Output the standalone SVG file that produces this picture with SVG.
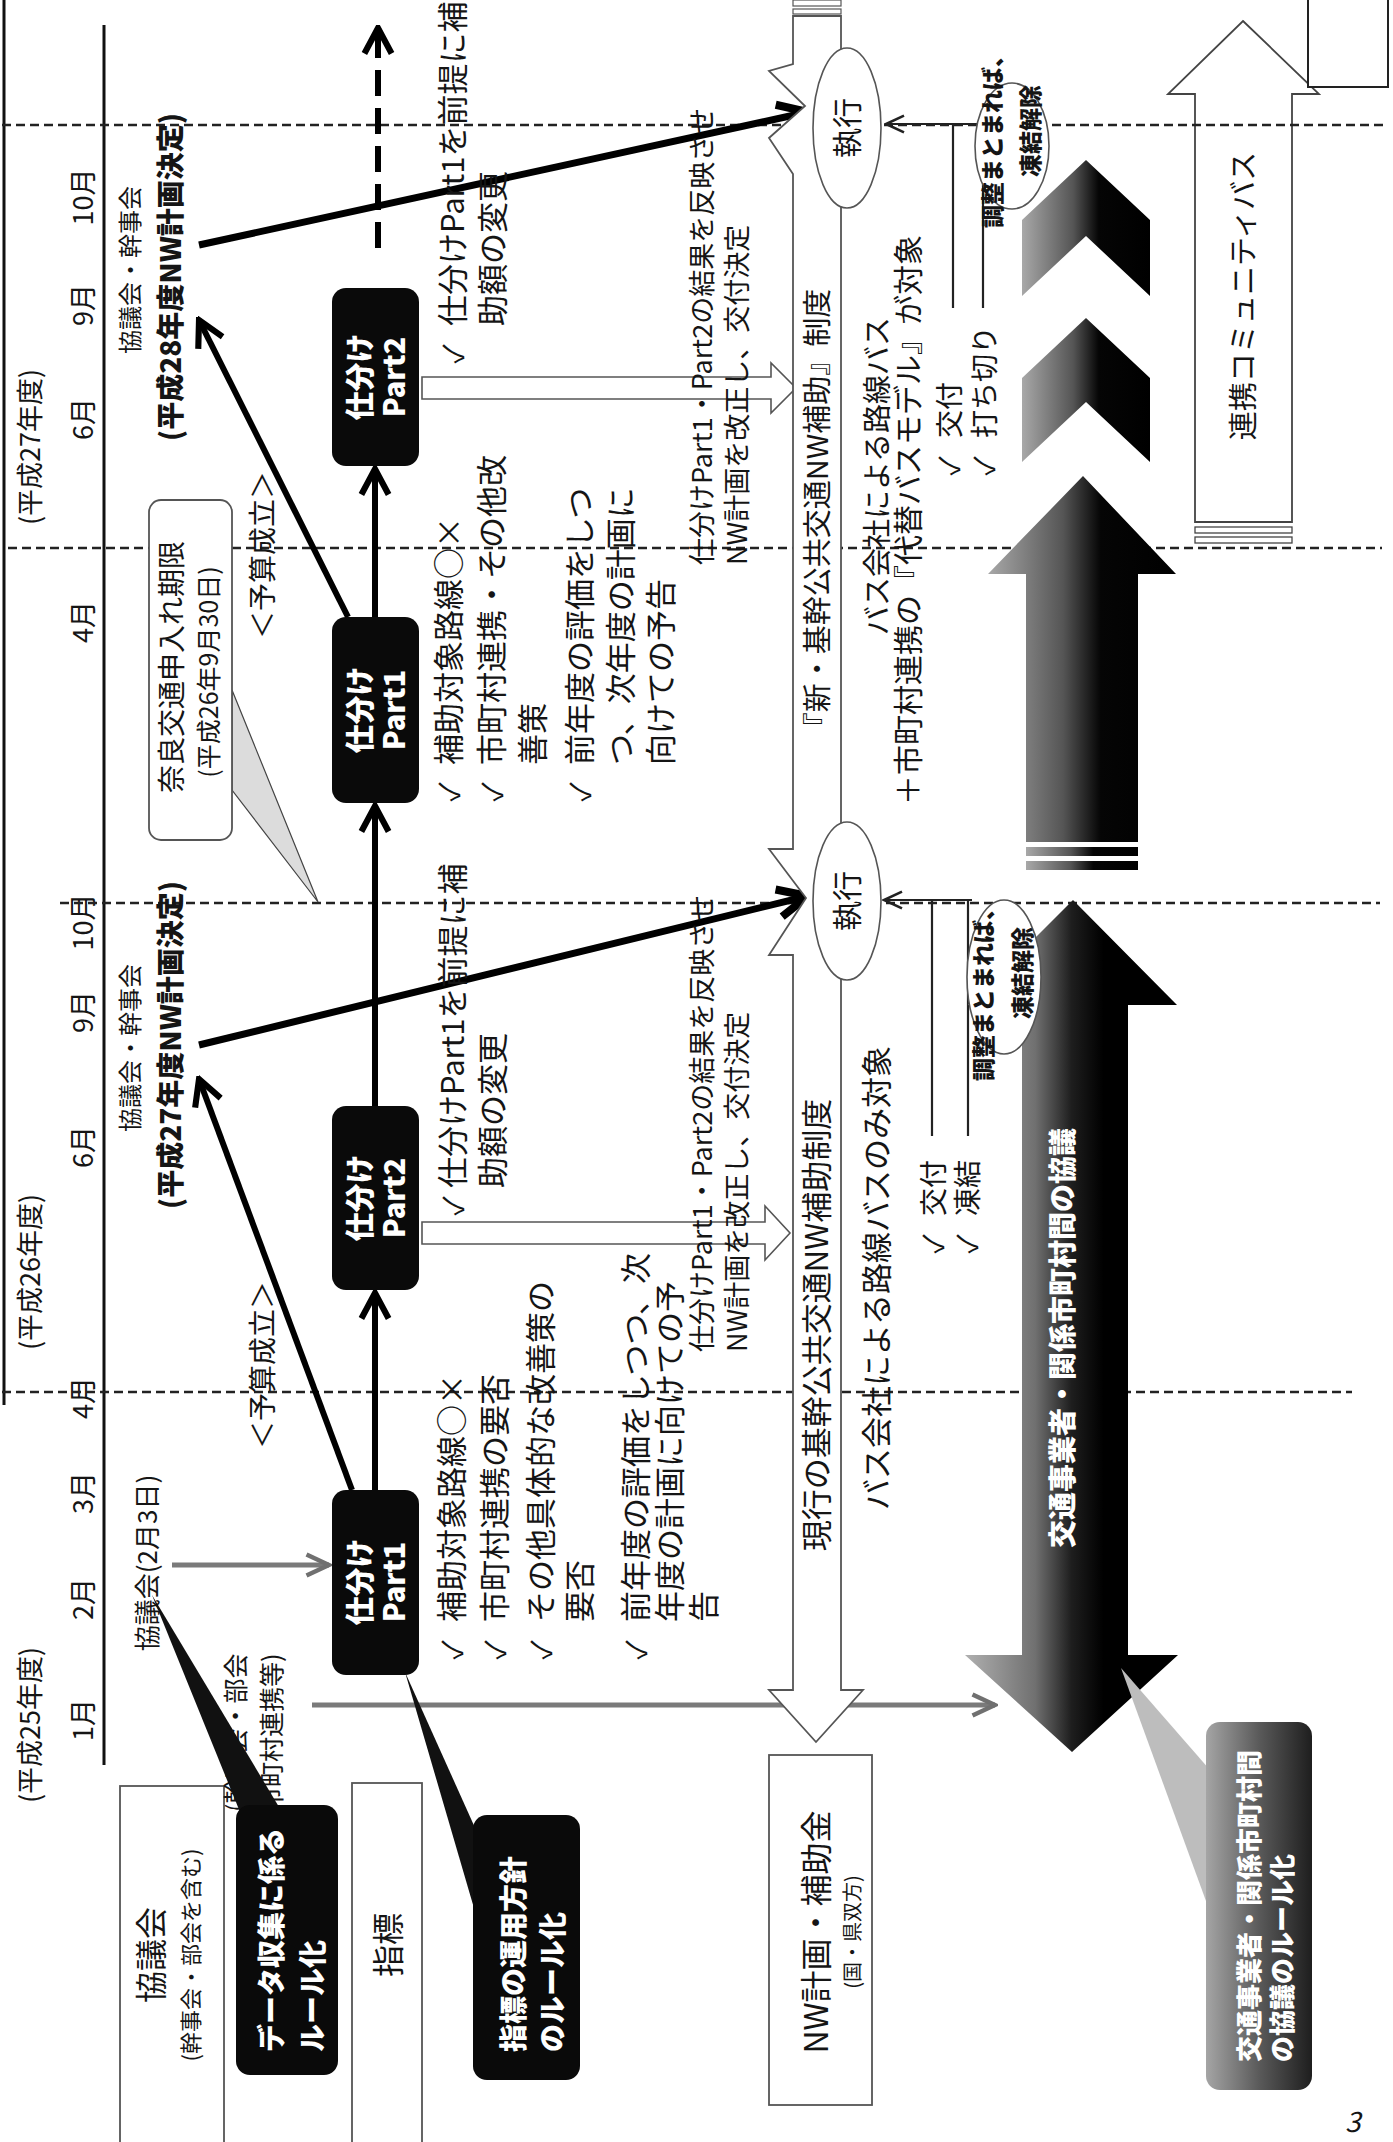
<svg xmlns="http://www.w3.org/2000/svg" width="1393" height="2142" viewBox="0 0 1393 2142">
<defs>
<style>
text{font-family:"Noto Sans CJK JP","Noto Sans","DejaVu Sans",sans-serif;fill:#151515}
.m{text-anchor:middle}
.b{font-weight:700}
.h{font-weight:900}
.w{fill:#fff}
.dash{stroke:#222;stroke-width:2.5;stroke-dasharray:9 5;fill:none}
.box{fill:#fff;stroke:#555;stroke-width:1.8}
.blk{fill:#0a0a0a}
.con{stroke:#000;stroke-width:6;fill:none}
.thk{stroke:#000;stroke-width:7;fill:none}
.thin{stroke:#222;stroke-width:2.2;fill:none}
.gray{stroke:#7a7a7a;stroke-width:5;fill:none}
.ell{fill:#fff;stroke:#555;stroke-width:1.6}
</style>
<marker id="ah" viewBox="0 0 20 20" refX="18" refY="10" markerWidth="34" markerHeight="34" orient="auto" markerUnits="userSpaceOnUse"><path d="M3,2 L18,10 L3,18" fill="none" stroke="#000" stroke-width="3.6"/></marker>
<marker id="ahb" viewBox="0 0 20 20" refX="18" refY="10" markerWidth="40" markerHeight="40" orient="auto" markerUnits="userSpaceOnUse"><path d="M3,3 L18,10 L3,17" fill="none" stroke="#000" stroke-width="4"/></marker>
<marker id="ahs" viewBox="0 0 20 20" refX="18" refY="10" markerWidth="24" markerHeight="24" orient="auto" markerUnits="userSpaceOnUse"><path d="M3,3 L18,10 L3,17" fill="none" stroke="#222" stroke-width="2.2"/></marker>
<marker id="ahg" viewBox="0 0 20 20" refX="18" refY="10" markerWidth="30" markerHeight="30" orient="auto" markerUnits="userSpaceOnUse"><path d="M3,3 L18,10 L3,17" fill="none" stroke="#707070" stroke-width="3"/></marker>
<linearGradient id="dk" x1="0" y1="0" x2="1" y2="0"><stop offset="0" stop-color="#a8a8a8"/><stop offset="0.4" stop-color="#555"/><stop offset="0.6" stop-color="#050505"/><stop offset="1" stop-color="#000"/></linearGradient>
<linearGradient id="dk2" x1="0" y1="0" x2="1" y2="0"><stop offset="0" stop-color="#b0b0b0"/><stop offset="0.33" stop-color="#707070"/><stop offset="0.5" stop-color="#1e1e1e"/><stop offset="0.65" stop-color="#000"/><stop offset="1" stop-color="#000"/></linearGradient>
<linearGradient id="cg" x1="0" y1="0" x2="1" y2="0"><stop offset="0" stop-color="#a5a5a5"/><stop offset="0.5" stop-color="#5a5a5a"/><stop offset="1" stop-color="#1e1e1e"/></linearGradient>
</defs>
<rect width="1393" height="2142" fill="#fff"/>

<g id="timeline">
<line x1="4" y1="0" x2="4" y2="1405" stroke="#111" stroke-width="3"/>
<line x1="104" y1="25" x2="104" y2="1765" stroke="#111" stroke-width="3"/>
<g font-size="27">
<text class="m" transform="translate(40 1725)rotate(-90)">(平成25年度)</text>
<text class="m" transform="translate(40 1272)rotate(-90)">(平成26年度)</text>
<text class="m" transform="translate(40 447)rotate(-90)">(平成27年度)</text>
<text class="m" transform="translate(93 1720)rotate(-90)">1月</text>
<text class="m" transform="translate(93 1599)rotate(-90)">2月</text>
<text class="m" transform="translate(93 1493)rotate(-90)">3月</text>
<text class="m" transform="translate(93 1398)rotate(-90)">4月</text>
<text class="m" transform="translate(93 1147)rotate(-90)">6月</text>
<text class="m" transform="translate(93 1012)rotate(-90)">9月</text>
<text class="m" transform="translate(93 922)rotate(-90)">10月</text>
<text class="m" transform="translate(93 622)rotate(-90)">4月</text>
<text class="m" transform="translate(93 419)rotate(-90)">6月</text>
<text class="m" transform="translate(93 305)rotate(-90)">9月</text>
<text class="m" transform="translate(93 197)rotate(-90)">10月</text>
</g>
</g>

<g id="renkei-bus">
<path d="M1243,21 L1319,94 H1292 V522 H1195 V94 H1168 Z" fill="#fff" stroke="#444" stroke-width="1.8"/>
<rect x="1195" y="527" width="97" height="6" fill="#fff" stroke="#444" stroke-width="1.3"/>
<rect x="1195" y="537" width="97" height="6" fill="#fff" stroke="#444" stroke-width="1.3"/>
<text class="m" font-size="29" transform="translate(1254 296)rotate(-90)">連携コミュニティバス</text>
</g>

<g id="grid">
<line class="dash" x1="2" y1="125" x2="1386" y2="125"/>
<line class="dash" x1="8" y1="548" x2="1382" y2="548"/>
<line class="dash" x1="60" y1="903" x2="1380" y2="903"/>
<line class="dash" x1="2" y1="1392" x2="1352" y2="1392"/>
</g>

<g id="corner-box"><rect x="1308" y="-2" width="80" height="89" fill="#fff" stroke="#222" stroke-width="2"/></g>

<g id="row-kyogikai">
<rect class="box" x="120" y="1786" width="104" height="370"/>
<text class="m" font-size="32" transform="translate(163 1955)rotate(-90)">協議会</text>
<text class="m" font-size="22" transform="translate(199 1955)rotate(-90)">(幹事会・部会を含む)</text>
</g>
<g id="row-shihyo">
<rect class="box" x="352" y="1783" width="70" height="370"/>
<text class="m" font-size="32" transform="translate(400 1945)rotate(-90)">指標</text>
</g>
<g id="row-nw">
<rect class="box" x="769" y="1755" width="103" height="350"/>
<text class="m" font-size="32" transform="translate(828 1932)rotate(-90)">NW計画・補助金</text>
<text class="m" font-size="20" transform="translate(860 1932)rotate(-90)">(国・県双方)</text>
</g>

<g id="meeting-h27">
<text class="m" font-size="24" transform="translate(139 1048)rotate(-90)">協議会・幹事会</text>
<text class="m h" font-size="28" transform="translate(181 1045)rotate(-90)">(平成27年度NW計画決定)</text>
</g>
<g id="meeting-h28">
<text class="m" font-size="24" transform="translate(139 270)rotate(-90)">協議会・幹事会</text>
<text class="m h" font-size="28" transform="translate(181 277)rotate(-90)">(平成28年度NW計画決定)</text>
</g>
<g id="meeting-0203">
<text class="m" font-size="26" transform="translate(157 1563)rotate(-90)">協議会(2月3日)</text>
<text font-size="25" transform="translate(245 1812)rotate(-90)">(幹事会・部会</text>
<text font-size="25" transform="translate(281 1812)rotate(-90)">市町村連携等)</text>
</g>
<g id="yosan-1"><text class="m" font-size="28" transform="translate(273 1365)rotate(-90)">＜予算成立＞</text></g>
<g id="yosan-2"><text class="m" font-size="28" transform="translate(273 555)rotate(-90)">＜予算成立＞</text></g>

<g id="dark-arrows">
<polygon points="1022,220 1086,160 1150,220 1150,296 1086,236 1022,296" fill="url(#dk)"/>
<polygon points="1022,378 1086,318 1150,378 1150,462 1086,402 1022,462" fill="url(#dk)"/>
<polygon points="1083,476 1176,574 1138,574 1138,842 1026,842 1026,574 988,574" fill="url(#dk)"/>
<rect x="1026" y="847" width="112" height="9" fill="url(#dk)"/>
<rect x="1026" y="861" width="112" height="9" fill="url(#dk)"/>
</g>

<g id="connectors">
<path d="M422,377 H771 V363 L796,388 L771,413 V399 H422 Z" fill="#fff" stroke="#555" stroke-width="1.6"/>
<path d="M422,1222 H765 V1206 L790,1233 L765,1260 V1244 H422 Z" fill="#fff" stroke="#555" stroke-width="1.6"/>
<line class="con" x1="375" y1="1490" x2="375" y2="1293" marker-end="url(#ah)"/>
<line class="con" x1="375" y1="1106" x2="375" y2="806" marker-end="url(#ah)"/>
<line class="con" x1="375" y1="617" x2="375" y2="469" marker-end="url(#ah)"/>
<line class="con" x1="378" y1="248" x2="378" y2="28" stroke-dasharray="26 12" marker-end="url(#ah)"/>
<line class="con" x1="352" y1="1490" x2="199" y2="1079" marker-end="url(#ah)"/>
<line class="con" x1="348" y1="617" x2="199" y2="320" marker-end="url(#ah)"/>
<line class="thk" x1="199" y1="1045" x2="808" y2="896" marker-end="url(#ahb)"/>
<line class="thk" x1="199" y1="245" x2="808" y2="112" marker-end="url(#ahb)"/>
<line class="gray" x1="172" y1="1565" x2="329" y2="1565" marker-end="url(#ahg)"/>
<line class="gray" x1="312" y1="1705" x2="995" y2="1705" marker-end="url(#ahg)"/>
<path class="thin" d="M953,308 V124 M983,308 V124"/>
<line class="thin" x1="985" y1="124" x2="886" y2="124" marker-end="url(#ahs)"/>
<path class="thin" d="M932,1136 V900 M968,1136 V900"/>
<line class="thin" x1="972" y1="900" x2="884" y2="900" marker-end="url(#ahs)"/>
</g>

<g id="nw-band">
<path d="M793,16 H841 V1690 H863 L816,1742 L769,1690 H793 V955 L769,955 L806,898 L769,849 H793 V174 L769,138 L805,106 L769,71 L793,64 Z" fill="#fff" stroke="#555" stroke-width="1.8"/>
<rect x="793" y="0" width="48" height="6" fill="#fff" stroke="#555" stroke-width="1.2"/>
<rect x="793" y="9" width="48" height="5" fill="#fff" stroke="#555" stroke-width="1.2"/>
<text class="m" font-size="31" transform="translate(828 1325)rotate(-90)">現行の基幹公共交通NW補助制度</text>
<text class="m" font-size="29" transform="translate(828 515)rotate(-90)">『新・基幹公共交通NW補助』制度</text>
</g>

<g id="current-target">
<text class="m" font-size="31" transform="translate(888 1278)rotate(-90)">バス会社による路線バスのみ対象</text>
<text class="m" font-size="28" transform="translate(944 1244)rotate(-90)">✓</text>
<text font-size="28" transform="translate(944 1216)rotate(-90)">交付</text>
<text class="m" font-size="28" transform="translate(978 1244)rotate(-90)">✓</text>
<text font-size="28" transform="translate(978 1216)rotate(-90)">凍結</text>
</g>
<g id="new-target">
<text class="m" font-size="29" transform="translate(888 476)rotate(-90)">バス会社による路線バス</text>
<text class="m" font-size="30" transform="translate(919 520)rotate(-90)">＋市町村連携の『代替バスモデル』が対象</text>
<text class="m" font-size="28" transform="translate(960 466)rotate(-90)">✓</text>
<text font-size="28" transform="translate(960 438)rotate(-90)">交付</text>
<text class="m" font-size="28" transform="translate(995 466)rotate(-90)">✓</text>
<text font-size="28" transform="translate(995 438)rotate(-90)">打ち切り</text>
</g>

<g id="kyogi-arrow">
<polygon points="1073,900 1177,1005 1128,1005 1128,1655 1178,1655 1072,1752 965,1655 1022,1655 1022,1005 968,1005" fill="url(#dk2)"/>
<text class="m h w" font-size="28" transform="translate(1073 1338)rotate(-90)">交通事業者・関係市町村間の協議</text>
</g>

<g id="shikko-1">
<ellipse class="ell" cx="847" cy="128" rx="34" ry="80"/>
<text class="m" font-size="30" transform="translate(858 128)rotate(-90)">執行</text>
</g>
<g id="shikko-2">
<ellipse class="ell" cx="847" cy="901" rx="34" ry="79"/>
<text class="m" font-size="30" transform="translate(858 901)rotate(-90)">執行</text>
</g>
<g id="chosei-1">
<ellipse class="ell" cx="1012" cy="146" rx="37" ry="63"/>
<text class="m h" font-size="23" transform="translate(1001 136)rotate(-90)">調整まとまれば、</text>
<text class="m h" font-size="23" transform="translate(1039 131)rotate(-90)">凍結解除</text>
</g>
<g id="chosei-2">
<ellipse class="ell" cx="1004" cy="977" rx="37" ry="77"/>
<text class="m h" font-size="23" transform="translate(992 989)rotate(-90)">調整まとまれば、</text>
<text class="m h" font-size="23" transform="translate(1031 973)rotate(-90)">凍結解除</text>
</g>

<g id="part1-h26">
<rect class="blk" x="332" y="1490" width="87" height="185" rx="14"/>
<text class="m h w" font-size="29" transform="translate(371 1582)rotate(-90)">仕分け</text>
<text class="m h w" font-size="29" transform="translate(405 1582)rotate(-90)">Part1</text>
</g>
<g id="part2-h26">
<rect class="blk" x="332" y="1106" width="87" height="184" rx="14"/>
<text class="m h w" font-size="29" transform="translate(371 1198)rotate(-90)">仕分け</text>
<text class="m h w" font-size="29" transform="translate(405 1198)rotate(-90)">Part2</text>
</g>
<g id="part1-h27">
<rect class="blk" x="332" y="617" width="87" height="186" rx="14"/>
<text class="m h w" font-size="29" transform="translate(371 710)rotate(-90)">仕分け</text>
<text class="m h w" font-size="29" transform="translate(405 710)rotate(-90)">Part1</text>
</g>
<g id="part2-h27">
<rect class="blk" x="332" y="288" width="87" height="178" rx="14"/>
<text class="m h w" font-size="29" transform="translate(371 377)rotate(-90)">仕分け</text>
<text class="m h w" font-size="29" transform="translate(405 377)rotate(-90)">Part2</text>
</g>

<g id="list-part1-h26" font-size="31">
<text class="m" font-size="28" transform="translate(463 1650)rotate(-90)">✓</text>
<text class="m" font-size="28" transform="translate(506 1650)rotate(-90)">✓</text>
<text class="m" font-size="28" transform="translate(552 1650)rotate(-90)">✓</text>
<text class="m" font-size="28" transform="translate(647 1650)rotate(-90)">✓</text>
<text transform="translate(463 1622)rotate(-90)">補助対象路線○×</text>
<text transform="translate(506 1622)rotate(-90)">市町村連携の要否</text>
<text transform="translate(552 1622)rotate(-90)">その他具体的な改善策の</text>
<text transform="translate(591 1622)rotate(-90)">要否</text>
<text transform="translate(647 1622)rotate(-90)">前年度の評価をしつつ、次</text>
<text transform="translate(681 1622)rotate(-90)">年度の計画に向けての予</text>
<text transform="translate(715 1622)rotate(-90)">告</text>
</g>
<g id="list-part2-h26" font-size="31">
<text class="m" font-size="28" transform="translate(464 1206)rotate(-90)">✓</text>
<text transform="translate(464 1188)rotate(-90)">仕分けPart1を前提に補</text>
<text transform="translate(504 1188)rotate(-90)">助額の変更</text>
</g>
<g id="list-part1-h27" font-size="31">
<text class="m" font-size="28" transform="translate(460 792)rotate(-90)">✓</text>
<text class="m" font-size="28" transform="translate(503 792)rotate(-90)">✓</text>
<text class="m" font-size="28" transform="translate(591 792)rotate(-90)">✓</text>
<text transform="translate(460 765)rotate(-90)">補助対象路線○×</text>
<text transform="translate(503 765)rotate(-90)">市町村連携・その他改</text>
<text transform="translate(544 765)rotate(-90)">善策</text>
<text transform="translate(591 765)rotate(-90)">前年度の評価をしつ</text>
<text transform="translate(632 765)rotate(-90)">つ、次年度の計画に</text>
<text transform="translate(672 765)rotate(-90)">向けての予告</text>
</g>
<g id="list-part2-h27" font-size="31">
<text class="m" font-size="28" transform="translate(464 354)rotate(-90)">✓</text>
<text transform="translate(464 326)rotate(-90)">仕分けPart1を前提に補</text>
<text transform="translate(504 326)rotate(-90)">助額の変更</text>
</g>

<g id="reflect-h26" font-size="27">
<text transform="translate(712 1352)rotate(-90)">仕分けPart1・Part2の結果を反映させ</text>
<text transform="translate(747 1352)rotate(-90)">NW計画を改正し、交付決定</text>
</g>
<g id="reflect-h27" font-size="27">
<text transform="translate(712 565)rotate(-90)">仕分けPart1・Part2の結果を反映させ</text>
<text transform="translate(747 565)rotate(-90)">NW計画を改正し、交付決定</text>
</g>

<g id="callout-nara">
<polygon points="232,690 318,902 232,790" fill="#dcdcdc" stroke="#444" stroke-width="1.2"/>
<rect class="box" x="149" y="500" width="83" height="340" rx="12"/>
<text class="m" font-size="28" transform="translate(182 667)rotate(-90)">奈良交通申入れ期限</text>
<text class="m" font-size="25" transform="translate(218 672)rotate(-90)">(平成26年9月30日)</text>
</g>
<g id="callout-data">
<polygon points="152,1595 240,1812 282,1812" fill="#111"/>
<rect class="blk" x="236" y="1805" width="102" height="270" rx="14"/>
<text class="h w" font-size="28" transform="translate(282 2052)rotate(-90)">データ収集に係る</text>
<text class="h w" font-size="28" transform="translate(323 2052)rotate(-90)">ルール化</text>
</g>
<g id="callout-shihyo">
<polygon points="405,1672 476,1830 476,1915" fill="#111"/>
<rect class="blk" x="473" y="1815" width="107" height="265" rx="14"/>
<text class="h w" font-size="28" transform="translate(524 2052)rotate(-90)">指標の運用方針</text>
<text class="h w" font-size="28" transform="translate(563 2052)rotate(-90)">のルール化</text>
</g>
<g id="callout-kyogi">
<polygon points="1121,1668 1210,1770 1210,1912" fill="#bdbdbd"/>
<rect x="1206" y="1722" width="106" height="368" rx="14" fill="url(#cg)"/>
<text class="h w" font-size="26" transform="translate(1259 2062)rotate(-90)">交通事業者・関係市町村間</text>
<text class="h w" font-size="26" transform="translate(1292 2062)rotate(-90)">の協議のルール化</text>
</g>

<text x="1345" y="2132" font-family="Liberation Serif" font-style="italic" font-size="28">3</text>
</svg>
